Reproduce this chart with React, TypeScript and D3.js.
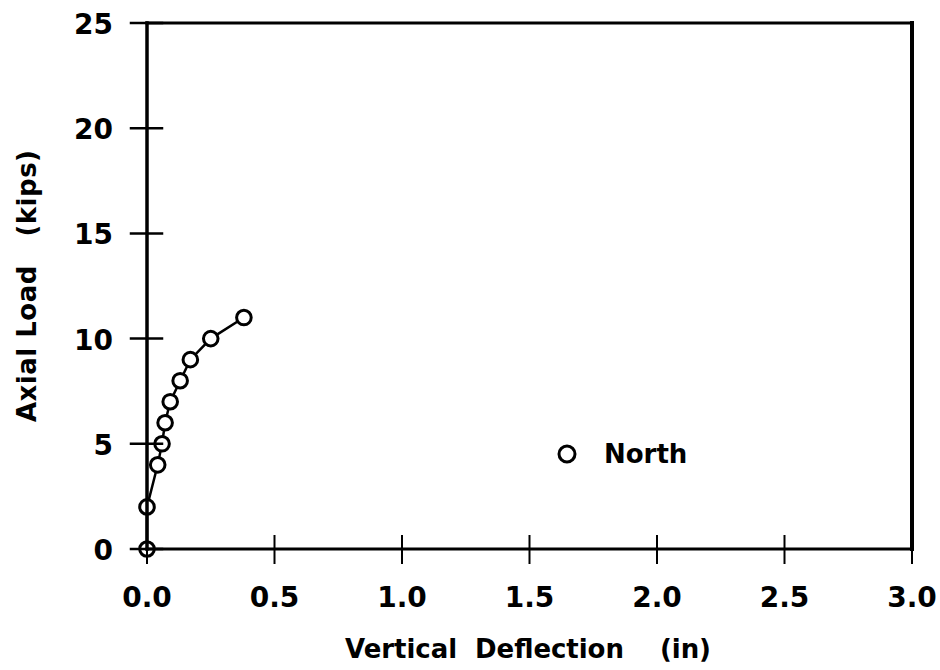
import React from "react";
import * as d3 from "d3";

const deflection = [0, 0, 0.042, 0.059, 0.071, 0.091, 0.13, 0.17, 0.25, 0.38];
const load = [0, 2, 4, 5, 6, 7, 8, 9, 10, 11];
const xTicks = [0, 0.5, 1, 1.5, 2, 2.5, 3];
const yTicks = [0, 5, 10, 15, 20, 25];
const seriesName = "North";
const xTitle = "Vertical  Deflection    (in)";
const yTitle = "Axial Load   (kips)";

export default function App() {
  const W = 940, H = 670;
  const x = d3.scaleLinear().domain([0, 3]).range([147, 912]);
  const y = d3.scaleLinear().domain([0, 25]).range([549, 23]);
  const pts = deflection.map((d, i) => [x(d), y(load[i])] as [number, number]);
  const line = d3.line()(pts) || "";
  const font = "'DejaVu Sans', sans-serif";
  return (
    <svg width={W} height={H} style={{ position: "absolute", left: 0, top: 0, background: "#fff" }}>
      <rect x={0} y={0} width={W} height={H} fill="#fff" />
      <path d={line} fill="none" stroke="#000" strokeWidth={2.5} />
      {pts.map((p, i) => (
        <circle key={i} cx={p[0]} cy={p[1]} r={7.3} fill="#fff" stroke="#000" strokeWidth={3} />
      ))}
      <g stroke="#000" fill="none" strokeLinecap="square">
        <line x1={x(0)} x2={x(3)} y1={y(25)} y2={y(25)} strokeWidth={3} />
        <line x1={x(3)} x2={x(3)} y1={y(25)} y2={y(0)} strokeWidth={4} />
        <line x1={x(0)} x2={x(3)} y1={y(0)} y2={y(0)} strokeWidth={3} />
        <line x1={x(0)} x2={x(0)} y1={y(25)} y2={y(0)} strokeWidth={3.5} />
        {yTicks.map((t) => (
          <line key={"yt" + t} x1={x(0) - 16} x2={x(0) + 15} y1={y(t)} y2={y(t)} strokeWidth={2.5} />
        ))}
        {xTicks.map((t) => (
          <line key={"xt" + t} x1={x(t)} x2={x(t)} y1={y(0) - 13} y2={y(0) + 14} strokeWidth={2} />
        ))}
      </g>
      <g fontFamily={font} fontWeight="bold" fill="#000">
        {yTicks.map((t) => (
          <text key={"yl" + t} x={113} y={y(t) + 11} fontSize={28} textAnchor="end">{t}</text>
        ))}
        {xTicks.map((t) => (
          <text key={"xl" + t} x={x(t)} y={y(0) + 58} fontSize={28} textAnchor="middle">{t.toFixed(1)}</text>
        ))}
        <text x={345} y={658} fontSize={26} textLength={366} lengthAdjust="spacing" xmlSpace="preserve">{xTitle}</text>
        <text transform={`translate(36,422) rotate(-90)`} fontSize={26} textLength={272} lengthAdjust="spacing" xmlSpace="preserve">{yTitle}</text>
        <text x={604} y={463} fontSize={26}>{seriesName}</text>
      </g>
      <circle cx={567} cy={454} r={8} fill="#fff" stroke="#000" strokeWidth={3} />
    </svg>
  );
}
